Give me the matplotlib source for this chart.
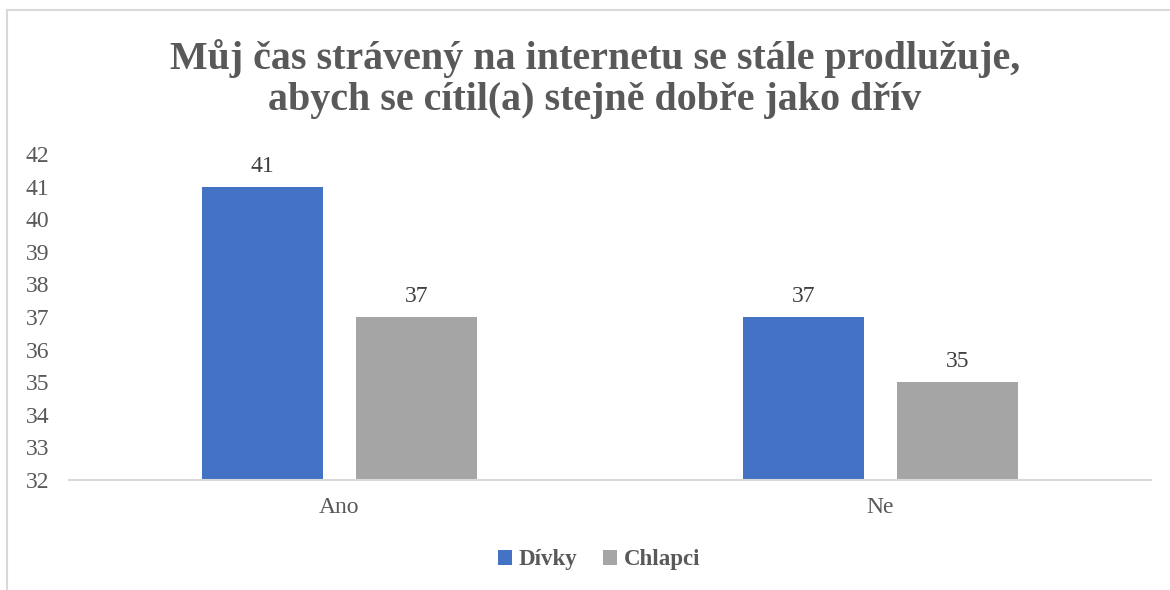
import matplotlib.pyplot as plt
from matplotlib.patches import Rectangle
import numpy as np

plt.rcParams['font.family'] = ['Liberation Serif', 'DejaVu Serif']

# Data
categories = ['Ano', 'Ne']
series_names = ['Dívky', 'Chlapci']
divky = [41, 37]
chlapci = [37, 35]
title = 'Můj čas strávený na internetu se stále prodlužuje,\nabych se cítil(a) stejně dobře jako dřív'

blue = '#4472C4'
grey = '#A5A5A5'
text_col = '#595959'

fig = plt.figure(figsize=(11.7, 5.9), dpi=100)
ax = fig.add_axes([69 / 1170, 110 / 590, 1082 / 1170, 326 / 590])

x = np.arange(len(categories))
w = 0.224
off = 0.142
b1 = ax.bar(x - off, divky, w, color=blue, label=series_names[0], zorder=2)
b2 = ax.bar(x + off, chlapci, w, color=grey, label=series_names[1], zorder=2)

for bars, vals in ((b1, divky), (b2, chlapci)):
    for r, v in zip(bars, vals):
        ax.annotate(str(v), (r.get_x() + r.get_width() / 2, v),
                    xytext=(0, 7), textcoords='offset points',
                    ha='center', va='bottom', fontsize=17, color='#404040')

ax.set_xlim(-0.5, 1.5)
ax.set_ylim(32, 42)
ax.set_yticks(range(32, 43))
ax.set_xticks(x)
ax.set_xticklabels(categories)
ax.tick_params(axis='y', length=0, pad=14, labelsize=17, labelcolor=text_col)
ax.tick_params(axis='x', length=0, pad=12, labelsize=17, labelcolor=text_col)
for s in ('top', 'right', 'left'):
    ax.spines[s].set_visible(False)
ax.spines['bottom'].set_color('#D9D9D9')
ax.spines['bottom'].set_linewidth(1.5)

fig.text(595 / 1170, 1 - 79 / 590, title, ha='center', va='center',
         fontsize=28.8, fontweight='bold', color=text_col, linespacing=1.17)

leg = fig.legend(handles=[b1, b2], loc='center', bbox_to_anchor=(599 / 1170, 1 - 560 / 590),
                 ncol=2, frameon=False, handlelength=0.6, handleheight=0.6,
                 handletextpad=0.3, columnspacing=1.1,
                 prop={'size': 16.5, 'weight': 'bold'})
for t in leg.get_texts():
    t.set_color(text_col)

# chart border (extends past right and bottom edge)
fig.patches.append(Rectangle((7 / 1170, -0.1), 1.2, 1 - 10 / 590 + 0.1,
                             transform=fig.transFigure, fill=False,
                             edgecolor='#D9D9D9', linewidth=1.5))

fig.savefig('out.png', dpi=100)
